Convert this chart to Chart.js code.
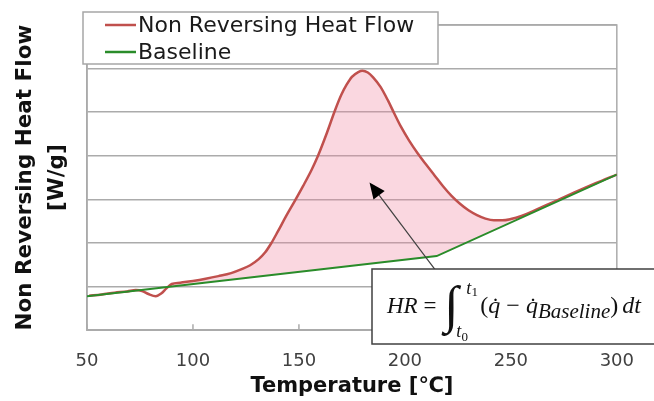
<!DOCTYPE html>
<html>
<head>
<meta charset="utf-8">
<script src="https://cdn.jsdelivr.net/npm/chart.js@4"></script>
<style>
  html, body { margin: 0; padding: 0; background: #fff; }
</style>
</head>
<body>
<canvas id="chart" width="654" height="401"></canvas>
<script>
// Non reversing heat flow curve (temperature in C, W/g in grid units)
const temps = [51, 57, 63, 69, 73, 76, 79, 82.5, 85, 87.5, 90, 94, 100, 106, 112, 118, 123, 127, 131, 134,
  137, 140, 144, 148, 152, 156, 159, 163, 167, 170, 172.5, 175, 178, 180, 182.5, 185, 188.5, 192, 195, 198,
  202, 206, 210, 214, 218, 222, 226, 230, 234, 238, 242, 246, 250, 255, 260, 270, 280, 290, 300];
const heatFlow = [0.79, 0.82, 0.86, 0.89, 0.92, 0.90, 0.83, 0.78, 0.84, 0.96, 1.06, 1.09, 1.13, 1.18, 1.24, 1.31, 1.40, 1.49, 1.63, 1.78,
  2.00, 2.26, 2.62, 2.96, 3.31, 3.68, 4.00, 4.50, 5.04, 5.40, 5.63, 5.81, 5.92, 5.95, 5.91, 5.80, 5.58, 5.27, 4.97, 4.68,
  4.35, 4.06, 3.80, 3.55, 3.30, 3.08, 2.90, 2.75, 2.64, 2.56, 2.52, 2.52, 2.55, 2.62, 2.72, 2.94, 3.16, 3.37, 3.57];

// Baseline
const baseTemps = [50, 215, 300];
const baseline = [0.78, 1.70, 3.57];

const xMin = 50, xMax = 300, xStep = 50;
const yMin = 0, yMax = 7;

// arrow from the formula box into the shaded area (data units)
const arrowFrom = [214.5, 1.37];
const arrowTo = [183.3, 3.39];

const red = "#c0504d";
const green = "#2a8c2a";
const gridColor = "#ababab";

const frame = {
  id: "frame",
  beforeDatasetsDraw(chart) {
    const { ctx, chartArea: a, scales: { x } } = chart;
    ctx.save();
    ctx.strokeStyle = gridColor;
    ctx.lineWidth = 1.5;
    ctx.strokeRect(a.left, a.top, a.right - a.left, a.bottom - a.top);
    x.ticks.forEach(t => {
      const px = x.getPixelForValue(t.value);
      ctx.beginPath();
      ctx.moveTo(px, a.bottom);
      ctx.lineTo(px, a.bottom - 6);
      ctx.stroke();
    });
    ctx.restore();
  }
};

const boxLegend = {
  id: "boxLegend",
  afterDraw(chart) {
    const ctx = chart.ctx;
    const left = 83, top = 12, width = 355, height = 52;
    ctx.save();
    ctx.fillStyle = "#fff";
    ctx.fillRect(left, top, width, height);
    ctx.strokeStyle = "#a6a6a6";
    ctx.lineWidth = 1.5;
    ctx.strokeRect(left, top, width, height);
    ctx.font = "22px 'DejaVu Sans'";
    ctx.textBaseline = "middle";
    chart.data.datasets.forEach((ds, i) => {
      const y = top + 13 + i * 27;
      ctx.strokeStyle = ds.borderColor;
      ctx.lineWidth = 2.5;
      ctx.beginPath();
      ctx.moveTo(left + 22, y);
      ctx.lineTo(left + 53, y);
      ctx.stroke();
      ctx.fillStyle = "#1a1a1a";
      ctx.fillText(ds.label, left + 55, y + 1);
    });
    ctx.restore();
  }
};

const formulaBox = {
  id: "formulaBox",
  afterDraw(chart) {
    const { ctx, scales: { x, y } } = chart;
    ctx.save();
    // arrow
    const x0 = x.getPixelForValue(arrowFrom[0]), y0 = y.getPixelForValue(arrowFrom[1]);
    const x1 = x.getPixelForValue(arrowTo[0]), y1 = y.getPixelForValue(arrowTo[1]);
    const ang = Math.atan2(y1 - y0, x1 - x0);
    const head = 16, half = 7;
    const bx = x1 - head * Math.cos(ang), by = y1 - head * Math.sin(ang);
    ctx.strokeStyle = "#404040";
    ctx.lineWidth = 1.2;
    ctx.beginPath();
    ctx.moveTo(x0, y0);
    ctx.lineTo(bx, by);
    ctx.stroke();
    ctx.fillStyle = "#000";
    ctx.beginPath();
    ctx.moveTo(x1, y1);
    ctx.lineTo(bx + half * Math.sin(ang), by - half * Math.cos(ang));
    ctx.lineTo(bx - half * Math.sin(ang), by + half * Math.cos(ang));
    ctx.closePath();
    ctx.fill();

    // box
    const left = 372, top = 269, bottom = 344;
    ctx.fillStyle = "#fff";
    ctx.fillRect(left, top, chart.width - left + 10, bottom - top);
    ctx.strokeStyle = "#404040";
    ctx.lineWidth = 1.5;
    ctx.strokeRect(left, top, chart.width - left + 10, bottom - top);

    // formula
    ctx.fillStyle = "#111";
    ctx.textBaseline = "alphabetic";
    const base = 313;
    let cx = left + 15;
    const serif = "'Liberation Serif', 'DejaVu Serif', serif";
    const put = (text, font, dy = 0) => {
      ctx.font = font;
      ctx.fillText(text, cx, base + dy);
      cx += ctx.measureText(text).width;
    };
    put("HR", "italic 23px " + serif);
    put(" = ", "23px " + serif);
    cx += 2;
    put("\u222B", "italic 52px " + serif, 9);
    const limX = cx + 8;
    ctx.font = "italic 18px " + serif;
    ctx.fillText("t", limX, base - 19);
    ctx.fillText("t", limX - 10, base + 24);
    const tw = ctx.measureText("t").width;
    ctx.font = "13px " + serif;
    ctx.fillText("1", limX + tw, base - 17);
    ctx.fillText("0", limX - 10 + tw, base + 28);
    cx = limX + 14;
    put("(", "24px " + serif);
    put("q\u0307", "italic 24px " + serif);
    put(" \u2212 ", "24px " + serif);
    put("q\u0307", "italic 24px " + serif);
    put("Baseline", "italic 21px " + serif, 5);
    put(")", "24px " + serif);
    cx += 4;
    put("dt", "italic 24px " + serif);
    ctx.restore();
  }
};

new Chart(document.getElementById("chart"), {
  type: "line",
  data: {
    datasets: [
      {
        label: "Non Reversing Heat Flow",
        data: temps.map((t, i) => ({ x: t, y: heatFlow[i] })),
        borderColor: red,
        borderWidth: 2.5,
        pointRadius: 0,
        cubicInterpolationMode: "monotone",
        fill: { target: 1, above: "rgba(240, 130, 160, 0.32)", below: "rgba(0, 0, 0, 0)" },
        order: 1
      },
      {
        label: "Baseline",
        data: baseTemps.map((t, i) => ({ x: t, y: baseline[i] })),
        borderColor: green,
        borderWidth: 2,
        pointRadius: 0,
        tension: 0,
        fill: false,
        order: 0
      }
    ]
  },
  options: {
    responsive: false,
    animation: false,
    layout: { padding: { top: 25, right: 28, left: 0, bottom: 2 } },
    plugins: {
      legend: { display: false },
      tooltip: { enabled: false }
    },
    scales: {
      x: {
        type: "linear",
        min: xMin,
        max: xMax,
        grid: { display: false, drawTicks: false },
        border: { color: gridColor, width: 1.5 },
        ticks: {
          stepSize: xStep,
          padding: 20,
          color: "#404040",
          font: { family: "'DejaVu Sans'", size: 18 }
        },
        title: {
          display: true,
          text: "Temperature [\u2103]",
          color: "#111",
          font: { family: "'DejaVu Sans'", size: 21, weight: "bold", lineHeight: 1.2 },
          padding: { top: -18, bottom: 0 }
        }
      },
      y: {
        min: yMin,
        max: yMax,
        grid: { color: gridColor, lineWidth: 1.5, drawTicks: false },
        border: { color: gridColor, width: 1.5 },
        ticks: { display: false, stepSize: 1 },
        title: {
          display: true,
          text: ["Non Reversing Heat Flow", "[W/g]"],
          color: "#111",
          font: { family: "'DejaVu Sans'", size: 21.5, weight: "bold", lineHeight: "32px" },
          padding: { top: 9, bottom: 14 }
        }
      }
    }
  },
  plugins: [frame, boxLegend, formulaBox]
});
</script>
</body>
</html>
